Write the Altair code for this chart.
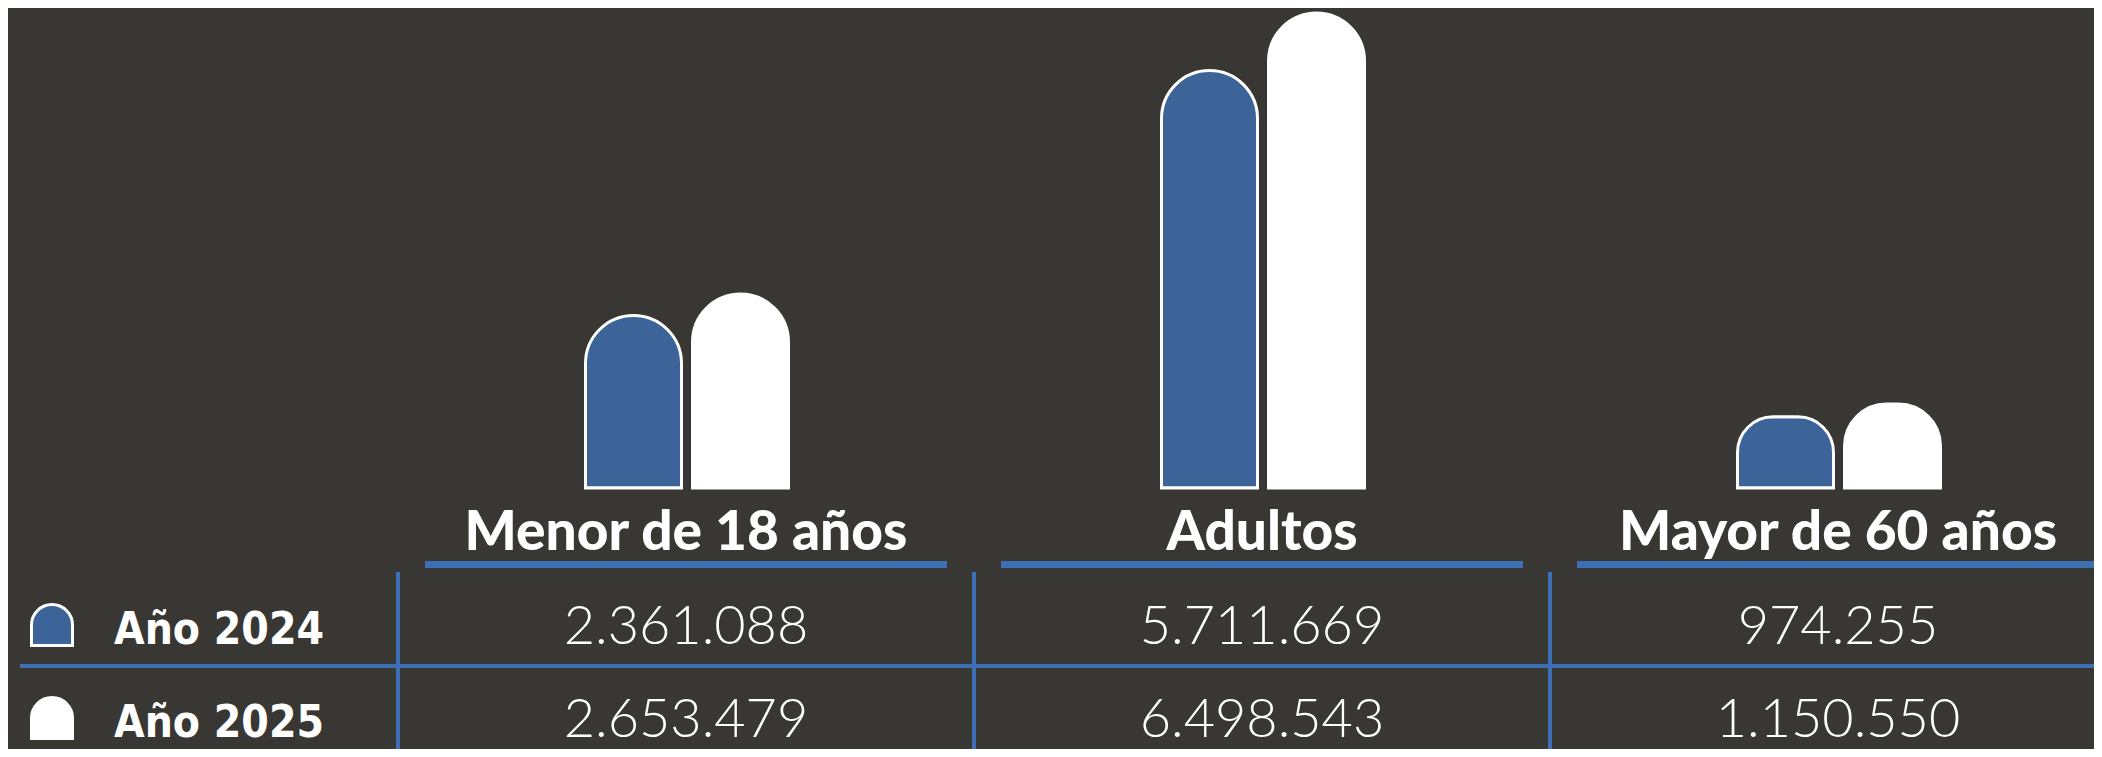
import altair as alt
import pandas as pd

# ---------------- data ----------------
categorias = ["Menor de 18 años", "Adultos", "Mayor de 60 años"]
anios = ["Año 2024", "Año 2025"]
valores_2024 = [2361088, 5711669, 974255]
valores_2025 = [2653479, 6498543, 1150550]

BG = "#383734"
BLUE = "#3d6499"
LINE_BLUE = "#3d6fb5"
WHITE = "#ffffff"

rows = []
for anio, vals in zip(anios, [valores_2024, valores_2025]):
    for cat, v in zip(categorias, vals):
        rows.append({"categoria": cat, "anio": anio, "valor": v,
                     "etiqueta": f"{v:,}".replace(",", ".")})
df = pd.DataFrame(rows)
cat_df = pd.DataFrame({"categoria": categorias})
anio_df = pd.DataFrame({"anio": anios})

W, H = 2086, 741
X_RANGE = [390, 2118]


def x_enc(band_position=None):
    kw = {}
    if band_position is not None:
        kw["bandPosition"] = band_position
    return alt.X("categoria:N", sort=categorias,
                 scale=alt.Scale(domain=categorias, range=X_RANGE,
                                 paddingInner=0, paddingOuter=0),
                 axis=None, **kw)


color_enc = alt.Color("anio:N", scale=alt.Scale(domain=anios, range=[BLUE, WHITE]),
                      legend=None)
row_y = alt.Y("anio:N", sort=anios,
              scale=alt.Scale(type="point", domain=anios, range=[617, 710], padding=0),
              axis=None)

bars = alt.Chart(df).mark_bar(
    width=96, cornerRadiusTopLeft=48, cornerRadiusTopRight=48,
    stroke=WHITE, strokeWidth=3
).encode(
    x=x_enc(),
    xOffset=alt.XOffset("anio:N", sort=anios,
                        scale=alt.Scale(domain=anios, range=[182, 396],
                                        paddingInner=0, paddingOuter=0)),
    y=alt.Y("valor:Q", scale=alt.Scale(zero=True, nice=False, range=[480, 5]), axis=None),
    color=color_enc,
)

headers = alt.Chart(cat_df).mark_text(
    font="Lato", fontWeight=900, fontSize=55, color=WHITE,
    baseline="alphabetic", align="center"
).encode(x=x_enc(), y=alt.value(542), text="categoria:N")

underline = alt.Chart(cat_df).mark_bar(width=522, color=LINE_BLUE).encode(
    x=x_enc(), y=alt.value(553), y2=alt.value(560)
)

vlines = alt.Chart(cat_df).mark_rule(color=LINE_BLUE, strokeWidth=4).encode(
    x=x_enc(0), y=alt.value(564), y2=alt.value(H),
)

hline = alt.Chart(anio_df.head(1)).mark_rule(color=LINE_BLUE, strokeWidth=4).encode(
    x=alt.value(12), x2=alt.value(W), y=alt.value(658)
)

ARCH = "M -1 1 L -1 0 A 1 1 0 0 1 1 0 L 1 1 Z"
icons = alt.Chart(anio_df).mark_point(
    shape=ARCH, filled=True, size=1681, strokeWidth=3, opacity=1
).encode(
    x=alt.value(44), y=row_y,
    fill=color_enc, stroke=alt.value(WHITE),
)

row_labels = alt.Chart(anio_df).mark_text(
    font="DejaVu Sans Condensed", fontWeight="bold", fontSize=44, color=WHITE,
    align="left", baseline="alphabetic", dy=19
).encode(x=alt.value(106), y=row_y, text="anio:N")

values = alt.Chart(df).mark_text(
    font="Lato", fontWeight=300, fontSize=54, color=WHITE,
    align="center", baseline="alphabetic", dy=19
).encode(x=x_enc(), y=row_y, text="etiqueta:N")

chart = alt.layer(
    bars, headers, underline, vlines, hline, icons, row_labels, values
).resolve_scale(y="independent").properties(
    width=W, height=H, padding=0,
    autosize=alt.AutoSizeParams(type="none"),
    background=BG,
).configure_view(stroke=None)

chart.save("out.html", embed_options={"renderer": "svg", "actions": False})
